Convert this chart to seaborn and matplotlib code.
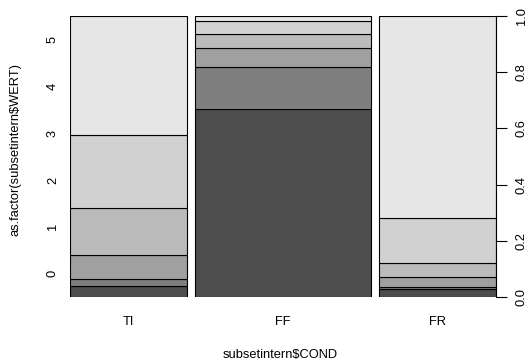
import numpy as np
import pandas as pd
import matplotlib
matplotlib.use("Agg")
import matplotlib.pyplot as plt
import seaborn as sns

sns.set_style("white")
plt.rcParams['font.family'] = ['Liberation Sans', 'DejaVu Sans']
plt.rcParams['text.color'] = 'black'
plt.rcParams['xtick.color'] = 'black'
plt.rcParams['ytick.color'] = 'black'
FS = 9.3

# Data
conditions = ["TI", "FF", "FR"]
cond_counts = [2, 3, 2]  # relative column widths
levels = ["0", "1", "2", "3", "4", "5"]
ti_props = [0.038, 0.027, 0.086, 0.167, 0.257, 0.425]
ff_props = [0.669, 0.148, 0.069, 0.051, 0.046, 0.017]
fr_props = [0.027, 0.010, 0.033, 0.052, 0.160, 0.718]
right_ticks = [0.0, 0.2, 0.4, 0.6, 0.8, 1.0]
colors = ["#4D4D4D", "#7F7F7F", "#A0A0A0", "#BBBBBB", "#D1D1D1", "#E6E6E6"]

props = pd.DataFrame({"TI": ti_props, "FF": ff_props, "FR": fr_props}, index=levels)

fig = plt.figure(figsize=(5.29, 3.61), dpi=100)
ax = fig.add_axes([70/529, 1-297/361, (496.3-70)/529, 281/361])

off = 0.02
widths = np.array(cond_counts, dtype=float) / sum(cond_counts)
lefts = np.concatenate([[0], np.cumsum(widths + off)[:-1]])
centers = lefts + widths / 2

for j, cond in enumerate(conditions):
    p = props[cond].values
    p = p / p.sum()
    bottoms = np.concatenate([[0], np.cumsum(p)[:-1]])
    for i in range(len(levels)):
        ax.bar(lefts[j], p[i], width=widths[j], bottom=bottoms[i], align="edge",
               color=colors[i], edgecolor="black", linewidth=0.8)

ax.set_xlim(0, 1 + off * (len(conditions) - 1))
ax.set_ylim(0, 1)
for s in ["top", "left", "bottom", "right"]:
    ax.spines[s].set_visible(False)

# x labels
ax.set_xticks(centers)
ax.set_xticklabels(conditions, fontsize=FS)
ax.tick_params(axis="x", length=0, pad=14)
fig.text(280/529, 1-355/361, "subsetintern\\$COND", fontsize=FS, ha="center", va="center")

# left y labels (evenly spaced)
ylev = (np.arange(len(levels)) + 0.5) / len(levels)
ax.set_yticks(ylev)
ax.set_yticklabels(levels, fontsize=FS, rotation=90, va="center")
ax.tick_params(axis="y", length=0, pad=8)
fig.text(16/529, 1-150/361, "as.factor(subsetintern\\$WERT)", fontsize=FS,
         rotation=90, ha="center", va="center")

# right axis
ax2 = ax.twinx()
ax2.set_ylim(0, 1)
for s in ["top", "left", "bottom"]:
    ax2.spines[s].set_visible(False)
ax2.spines["right"].set_linewidth(0.8)
ax2.spines["right"].set_color("black")
ax2.set_yticks(right_ticks)
ax2.set_yticklabels([f"{t:.1f}" for t in right_ticks], fontsize=FS, rotation=90, va="center")
ax2.tick_params(axis="y", length=8, width=0.8, pad=6, direction="out", right=True)

fig.savefig("out.png", dpi=100)
